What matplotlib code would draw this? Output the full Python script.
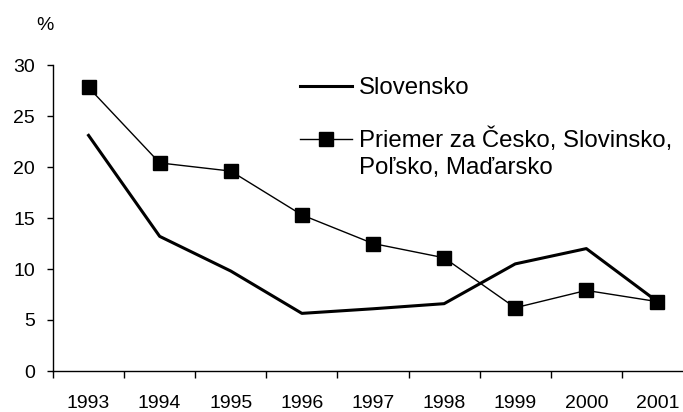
import numpy as np
import matplotlib.pyplot as plt

plt.rcParams['font.family'] = ['Liberation Sans', 'DejaVu Sans']

roky = ["1993", "1994", "1995", "1996", "1997", "1998", "1999", "2000", "2001"]
slovensko = [23.1, 13.2, 9.8, 5.65, 6.1, 6.6, 10.5, 12.0, 6.8]
priemer = [27.8, 20.4, 19.6, 15.3, 12.5, 11.1, 6.2, 7.9, 6.8]

W, H = 683, 412
fig = plt.figure(figsize=(W / 100, H / 100), dpi=100)
# os x siaha kusok za pravy okraj obrazka
ax = fig.add_axes([53 / W, 1 - 371 / H, (693 - 53) / W, (371 - 65) / H])

x = np.arange(len(roky))
ax.plot(x, slovensko, color="black", lw=2.2, label="Slovensko")
ax.plot(x, priemer, color="black", lw=1.0, marker="s", ms=10,
        label="Priemer za Česko, Slovinsko,")

ax.set_xlim(-0.5, len(roky) - 0.5)
ax.set_ylim(0, 30)
ax.set_yticks(range(0, 31, 5))
ax.set_xticks(x)
ax.set_xticklabels(roky)
ax.set_xticks(np.arange(-0.5, len(roky)), minor=True)
ax.tick_params(axis="x", which="major", length=0, pad=17, labelsize=14)
ax.tick_params(axis="x", which="minor", length=5, width=1, direction="out")
ax.tick_params(axis="y", length=4, width=1, direction="out", labelsize=14, pad=9)

for s in ["top", "right"]:
    ax.spines[s].set_visible(False)
ax.spines["left"].set_linewidth(1)
ax.spines["bottom"].set_linewidth(1)

leg = ax.legend(loc="upper left", bbox_to_anchor=(300 / W, 1 - 77 / H),
                bbox_transform=fig.transFigure, frameon=False, fontsize=17.3,
                handlelength=2.17, handletextpad=0.3, labelspacing=1.2,
                borderpad=0, borderaxespad=0)
fig.text(359 / W, 1 - 168 / H, "Poľsko, Maďarsko", fontsize=17.3, va="center")

fig.text(45 / W, 1 - 26 / H, "%", fontsize=14, ha="center", va="center")

fig.savefig("out.png", dpi=100)
